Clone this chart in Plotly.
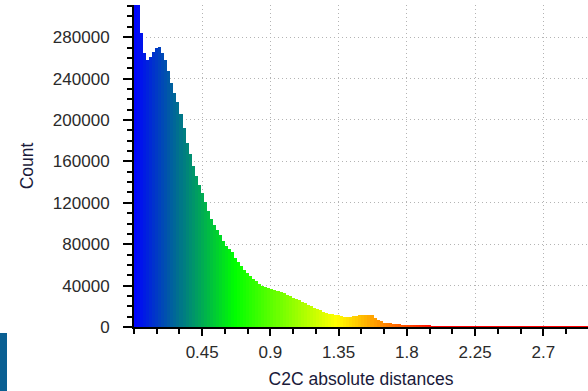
import plotly.graph_objects as go

# ---- data ----
BIN_START = 0.0
BIN_WIDTH = 0.02
counts = [
    330000, 325000, 284000, 265000, 258000, 261000, 266000, 270000, 270500, 265000,
    258000, 247000, 236000, 226000, 217000, 206000, 192000, 178000, 167000, 156000,
    146000, 137000, 129000, 121000, 112000, 104000, 99000, 94000, 89000, 83000,
    78000, 75000, 72000, 67000, 63000, 59000, 55000, 52000, 49000, 46500,
    44000, 42000, 40000, 38500, 37500, 36500, 35500, 35000, 33500, 32500,
    31000, 29500, 28000, 27000, 25800, 24500, 23000, 21500, 20000, 18500,
    17000, 16000, 14800, 13800, 13000, 12500, 12000, 11500, 11000, 10000,
    9700, 10000, 10500, 11000, 11300, 11600, 11800, 12000, 11300, 9000,
    6800, 5500, 4300, 3800, 3400, 3100, 2800, 2600, 2400, 2200,
    2000, 1900, 1800, 1700, 1650, 1600, 1550, 1500, 1450, 1400,
    1380, 1360, 1340, 1320, 1300, 1280, 1260, 1240, 1220, 1200,
    1190, 1180, 1170, 1160, 1150, 1140, 1130, 1120, 1110, 1100,
    1090, 1080, 1070, 1060, 1050, 1040, 1030, 1020, 1010, 1000,
    990, 980, 970, 960, 950, 940, 930, 920, 910, 900,
    890, 880, 870, 860, 850, 840, 830, 820, 810, 800,
]
x_tick_vals = [0.45, 0.9, 1.35, 1.8, 2.25, 2.7]
x_tick_text = ["0.45", "0.9", "1.35", "1.8", "2.25", "2.7"]
y_tick_vals = [0, 40000, 80000, 120000, 160000, 200000, 240000, 280000]
y_tick_text = ["0", "40000", "80000", "120000", "160000", "200000", "240000", "280000"]
color_scale_max = 2.0   # distance mapped to pure red (Blue>Green>Yellow>Red)
x_title = "C2C absolute distances"
y_title = "Count"

centers = [BIN_START + (i + 0.5) * BIN_WIDTH for i in range(len(counts))]

W, H = 588, 391
ML, MR, MT, MB = 134, 0, 5, 64
plot_w = W - ML - MR
plot_h = H - MT - MB

FONT = "Liberation Sans, Arial, sans-serif"
TXT = "#2a2a2a"
GRID = "#b4b4b4"

fig = go.Figure()
fig.add_trace(go.Bar(
    x=centers,
    y=counts,
    width=BIN_WIDTH,
    marker=dict(
        color=centers,
        colorscale=[[0, "#0000ff"], [1 / 3, "#00ff00"], [2 / 3, "#ffff00"], [1, "#ff0000"]],
        cmin=0, cmax=color_scale_max,
        line=dict(width=0),
    ),
    showlegend=False,
    hoverinfo="skip",
))

fig.update_layout(
    width=W, height=H,
    margin=dict(l=ML, r=MR, t=MT, b=MB, pad=0),
    paper_bgcolor="white",
    plot_bgcolor="white",
    bargap=0,
    font=dict(family=FONT, size=17, color=TXT),
    shapes=[dict(
        type="rect", xref="paper", yref="paper",
        x0=-ML / plot_w, x1=(7 - ML) / plot_w,
        y0=-(H - MT - plot_h) / plot_h, y1=-(333 - (H - MB)) / plot_h,
        fillcolor="#0a5f92", line=dict(width=0), layer="above",
    )],
)

fig.update_xaxes(
    range=[0, 2.995],
    tickmode="array", tickvals=x_tick_vals, ticktext=x_tick_text,
    ticks="outside", ticklen=7, tickwidth=2, tickcolor="black",
    showline=True, linewidth=2, linecolor="black",
    showgrid=True, gridcolor=GRID, gridwidth=1, griddash="1px,3px",
    zeroline=False,
    minor=dict(tickmode="linear", tick0=0, dtick=0.15, ticks="outside",
               ticklen=5, tickwidth=2, tickcolor="black", showgrid=False),
    tickfont=dict(family=FONT, size=17, color=TXT),
    ticklabelstandoff=2,
    title=dict(text=x_title, font=dict(family=FONT, size=17.5, color="#1a1a3a"), standoff=11),
    automargin=False,
)
fig.update_yaxes(
    range=[0, 311100],
    tickmode="array", tickvals=y_tick_vals, ticktext=y_tick_text,
    ticks="outside", ticklen=9, tickwidth=2, tickcolor="black",
    showline=True, linewidth=2, linecolor="black",
    showgrid=True, gridcolor=GRID, gridwidth=1, griddash="1px,3px",
    zeroline=False,
    minor=dict(tickmode="linear", tick0=0, dtick=10000, ticks="outside",
               ticklen=5, tickwidth=2, tickcolor="black", showgrid=False),
    tickfont=dict(family=FONT, size=17, color=TXT),
    ticklabelstandoff=10,
    title=dict(text=y_title, font=dict(family=FONT, size=17.5, color="#1a1a3a"), standoff=15),
    automargin=False,
)

fig.write_html(
    "out.html",
    config={"displayModeBar": False, "staticPlot": True},
    post_script="document.body.style.margin='0';document.body.style.overflow='hidden';",
)
